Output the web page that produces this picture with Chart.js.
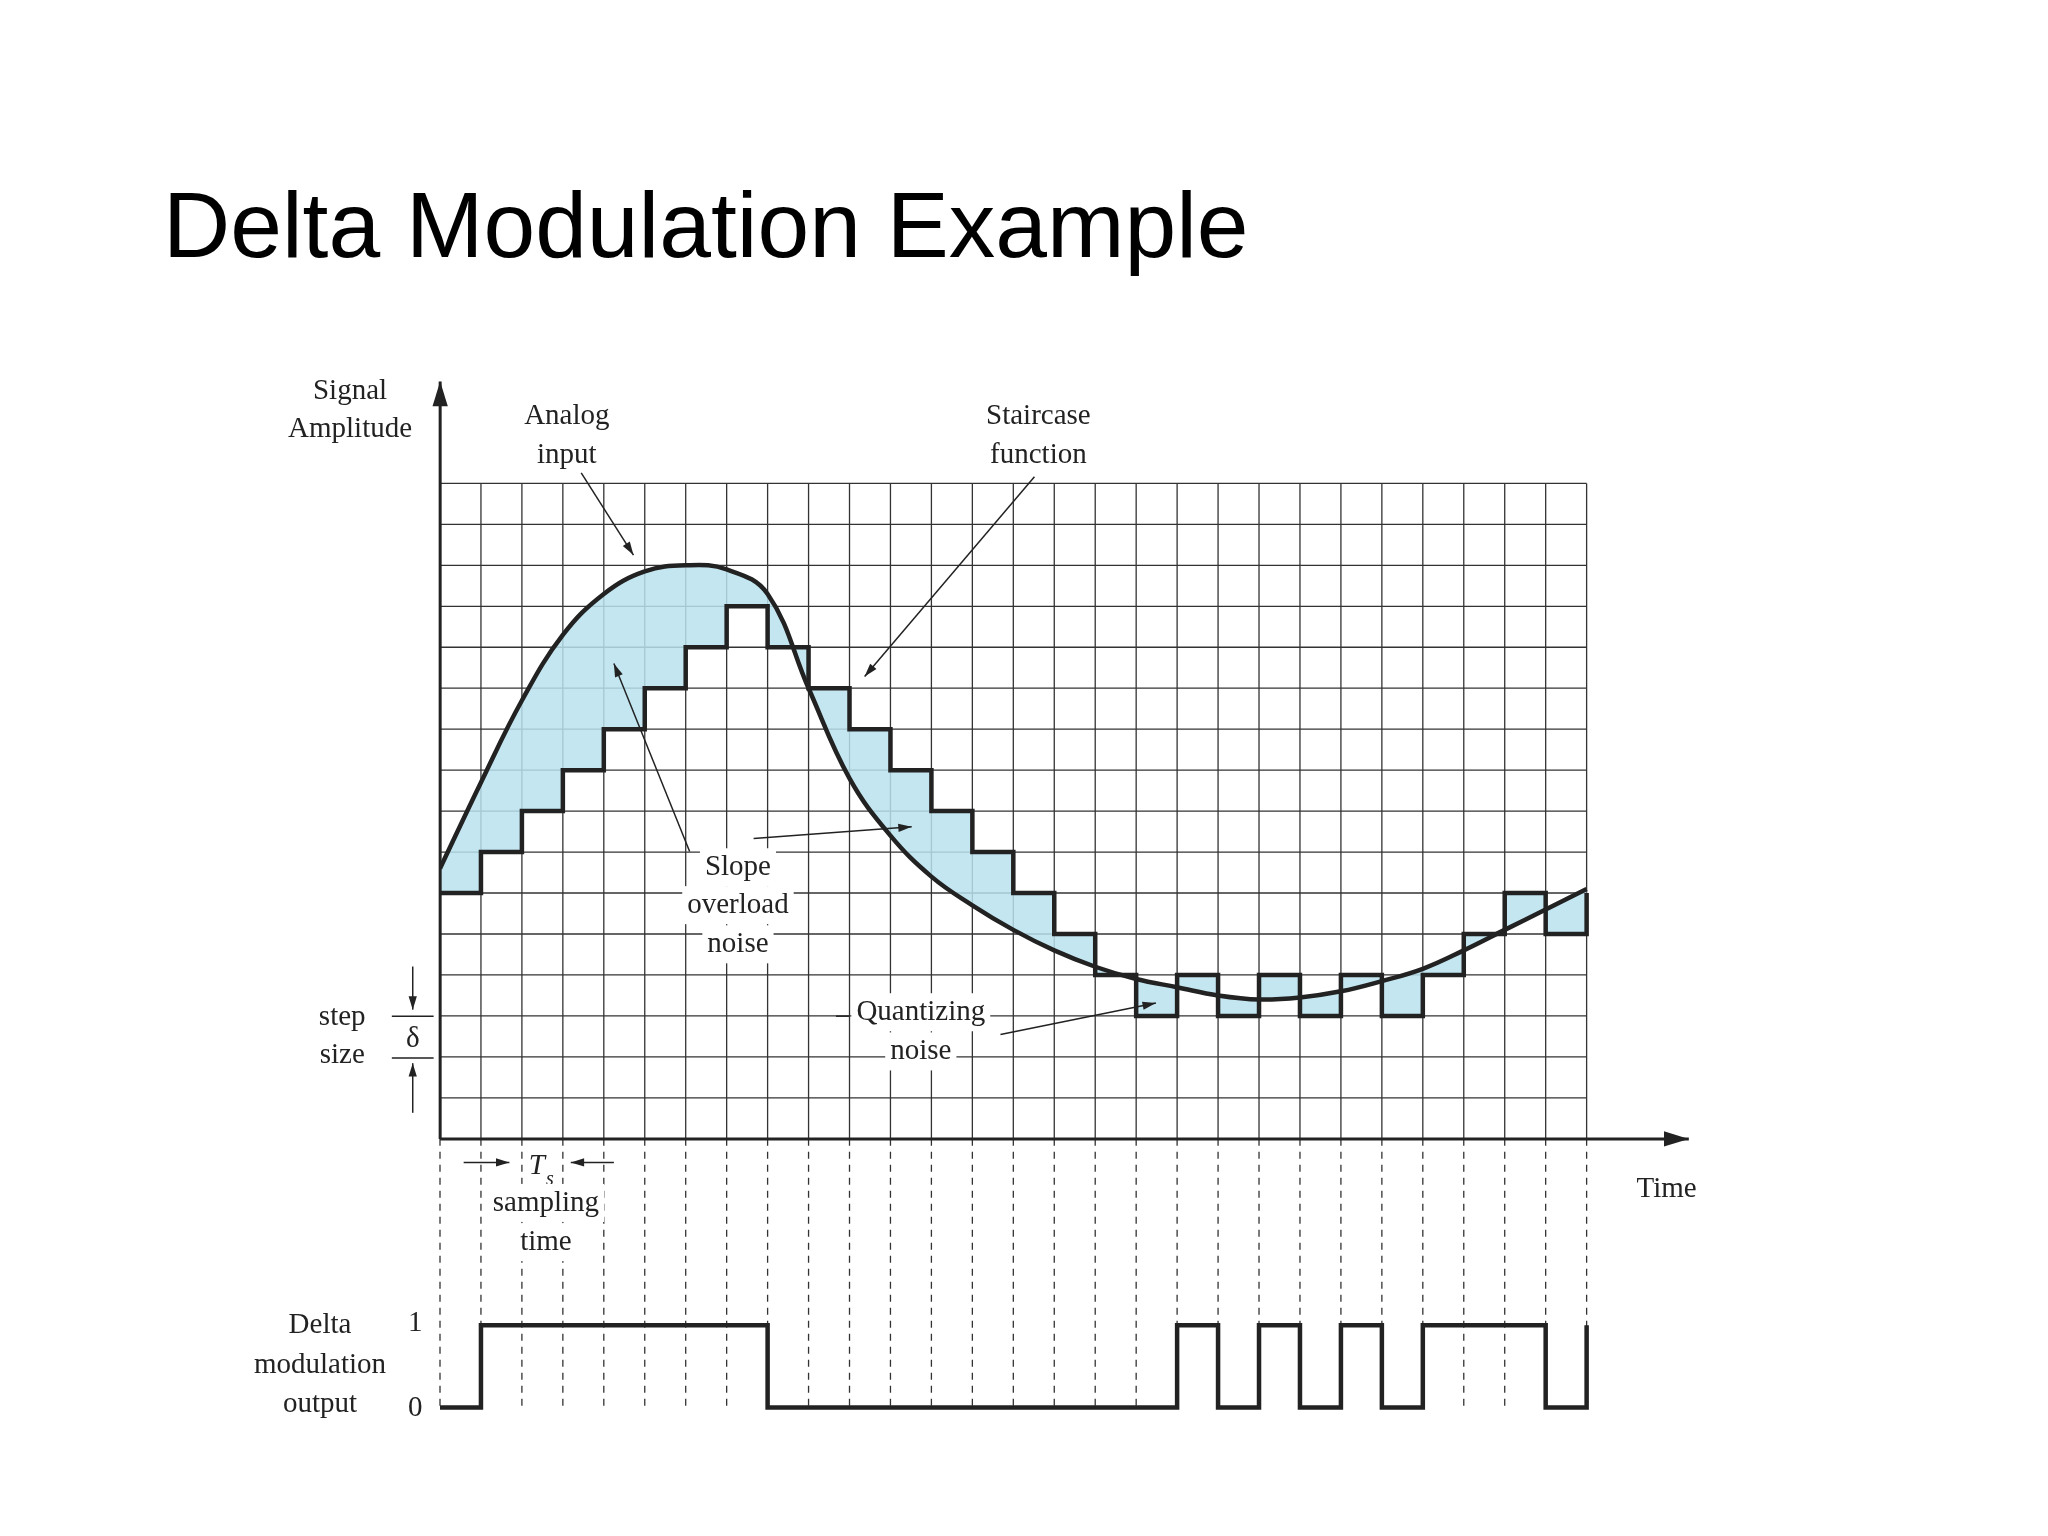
<!DOCTYPE html>
<html><head><meta charset="utf-8">
<script src="https://cdn.jsdelivr.net/npm/chart.js@4/dist/chart.umd.min.js"></script>
<style>html,body{margin:0;background:#fff}#c{display:block}</style>
</head><body><canvas id="c" width="2048" height="1536"></canvas>
<script>
// sample instants (grid columns)
const samples = [0,1,2,3,4,5,6,7,8,9,10,11,12,13,14,15,16,17,18,19,20,21,22,23,24,25,26,27,28];
// analog input, in step-size units
const analog = [6.6,8.7,10.7,12.3,13.3,13.85,14.0,13.9,13.3,11.0,8.8,7.4,6.4,5.7,5.1,4.6,4.2,3.9,3.7,3.5,3.4,3.45,3.6,3.85,4.15,4.6,5.1,5.6,6.1];
// staircase level held during interval [k, k+1]
const staircase = [6,7,8,9,10,11,12,13,12,11,10,9,8,7,6,5,4,3,4,3,4,3,4,3,4,5,6,5,6];
// delta modulation output bit for interval [k, k+1]
const bits = [0,1,1,1,1,1,1,1,0,0,0,0,0,0,0,0,0,0,1,0,1,0,1,0,1,1,1,0,1];

const S = 2048/1568;
const ink = '#222';
const serif = '"Liberation Serif","DejaVu Serif",serif';

const deco = {
  id:'deco',
  beforeDatasetsDraw(chart){
    const c = chart.ctx, x = chart.scales.x, y = chart.scales.y;
    c.save();
    c.strokeStyle = '#333'; c.lineWidth = 1.3;
    for(let i=0;i<=28;i++){ c.beginPath(); c.moveTo(x.getPixelForValue(i), y.getPixelForValue(0)); c.lineTo(x.getPixelForValue(i), y.getPixelForValue(16)); c.stroke(); }
    for(let j=0;j<=16;j++){ c.beginPath(); c.moveTo(x.getPixelForValue(0), y.getPixelForValue(j)); c.lineTo(x.getPixelForValue(28), y.getPixelForValue(j)); c.stroke(); }
    c.setLineDash([7,6]);
    for(let i=0;i<=28;i++){ c.beginPath(); c.moveTo(x.getPixelForValue(i), y.getPixelForValue(0)); c.lineTo(x.getPixelForValue(i), y.getPixelForValue(-6.6)); c.stroke(); }
    c.restore();
  },
  afterDatasetsDraw(chart){
    const c = chart.ctx;
    const P = v => v*S;
    c.save();
    c.strokeStyle = ink; c.fillStyle = ink;
    function arrow(x1,y1,x2,y2,w,h){
      x1=P(x1);y1=P(y1);x2=P(x2);y2=P(y2);
      c.lineWidth=w||1.5; c.beginPath(); c.moveTo(x1,y1); c.lineTo(x2,y2); c.stroke();
      const a=Math.atan2(y2-y1,x2-x1), L=h||14;
      c.beginPath(); c.moveTo(x2,y2); c.lineTo(x2-L*Math.cos(a-0.3),y2-L*Math.sin(a-0.3)); c.lineTo(x2-L*Math.cos(a+0.3),y2-L*Math.sin(a+0.3)); c.closePath(); c.fill();
    }
    arrow(337,872,337,292,3,26);
    arrow(337,872,1293,872,3,26);
    c.font = '29px '+serif; c.textAlign='center'; c.textBaseline='middle';
    function txt(t,px,py,bg){
      if(bg){ const w=c.measureText(t).width+10; c.fillStyle='#fff'; c.fillRect(P(px)-w/2,P(py)-19,w,38); c.fillStyle=ink; }
      c.fillText(t,P(px),P(py));
    }
    txt('Signal',268,300); txt('Amplitude',268,329);
    txt('Analog',434,319); txt('input',434,349);
    txt('Staircase',795,319); txt('function',795,349);
    arrow(445,362,485,425);
    arrow(792,365,662,518);
    arrow(528,652,470,508);
    arrow(577,642,698,633);
    txt('Slope',565,664,true); txt('overload',565,693,true); txt('noise',565,723,true);
    c.lineWidth=1.5; c.beginPath(); c.moveTo(P(640),P(778)); c.lineTo(P(650),P(778)); c.stroke();
    arrow(766,792,885,768);
    txt('Quantizing',705,775,true); txt('noise',705,805,true);
    txt('step',262,779); txt('size',262,808); txt('δ',316,796);
    c.lineWidth=1.5;
    c.beginPath(); c.moveTo(P(300),P(778)); c.lineTo(P(332),P(778)); c.moveTo(P(300),P(810)); c.lineTo(P(332),P(810)); c.stroke();
    arrow(316,740,316,773); arrow(316,852,316,814);
    arrow(355,890,390,890); arrow(470,890,437,890);
    c.font='italic 29px '+serif; c.fillText('T',P(411),P(893));
    c.font='italic 20px '+serif; c.fillText('s',P(421),P(903));
    c.font='29px '+serif;
    txt('sampling',418,921,true); txt('time',418,951,true);
    txt('Time',1276,911);
    txt('Delta',245,1015); txt('modulation',245,1045); txt('output',245,1075);
    txt('1',318,1013); txt('0',318,1078);
    c.fillStyle='#000'; c.font='93px "Liberation Sans",Arial,sans-serif'; c.textBaseline='middle'; c.textAlign='left';
    c.fillText('Delta Modulation Example',163,231);
    c.restore();
  }
};

new Chart(document.getElementById('c'), {
  type:'line',
  data:{ datasets:[
    { label:'Analog input', data:samples.map((s,i)=>({x:s,y:analog[i]})), borderColor:ink, borderWidth:4.5, pointRadius:0, tension:0.4, fill:'+1', backgroundColor:'rgba(185,226,238,0.85)', order:2 },
    { label:'Staircase', data:samples.map((s,i)=>({x:s,y:staircase[i]})), stepped:'before', borderColor:ink, borderWidth:4.5, pointRadius:0, fill:false, order:1 },
    { label:'Output', yAxisID:'yOut', data:samples.map((s,i)=>({x:s,y:bits[i]})), stepped:'before', borderColor:ink, borderWidth:4.5, pointRadius:0, fill:false, order:1 }
  ]},
  plugins:[deco],
  options:{
    responsive:false, animation:false, devicePixelRatio:1,
    layout:{padding:{left:440,right:359,top:381,bottom:90}},
    plugins:{legend:{display:false},tooltip:{enabled:false},title:{display:false}},
    scales:{
      x:{type:'linear',min:0,max:30.5,display:false},
      y:{min:-7.5,max:18.5,display:false},
      yOut:{min:-0.468,max:12.47,display:false}
    }
  }
});
</script></body></html>
